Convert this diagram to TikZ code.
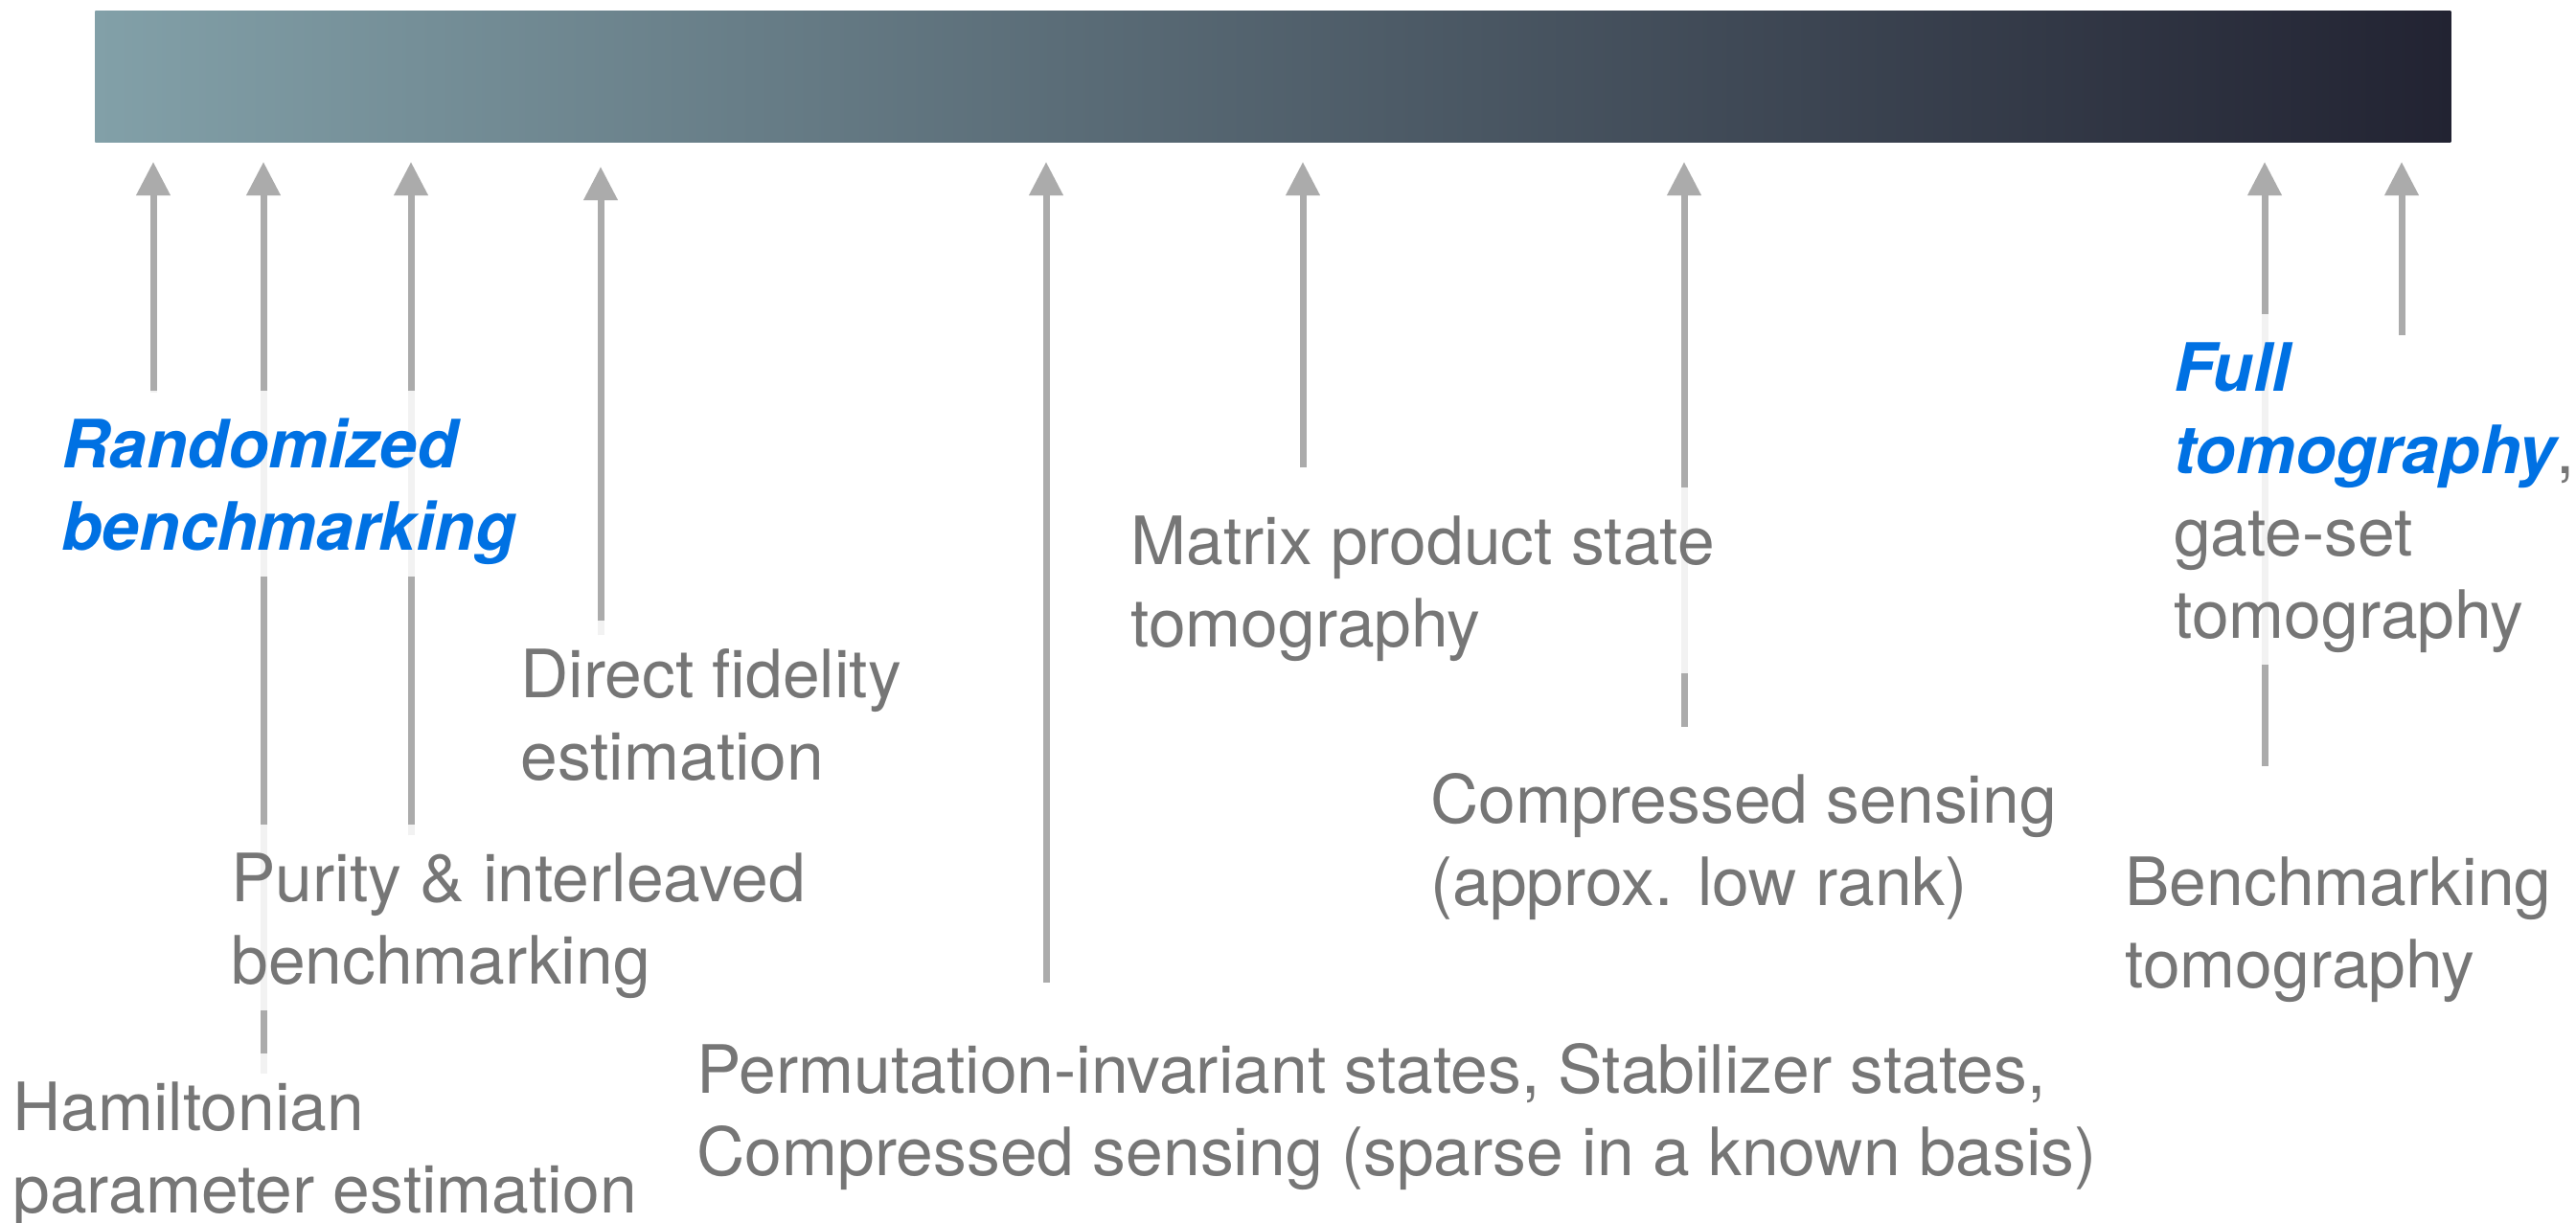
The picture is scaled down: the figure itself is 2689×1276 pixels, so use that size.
\documentclass[tikz,border=0pt]{standalone}
\usepackage{fontspec}
\setmainfont{TeX Gyre Heros}
\usetikzlibrary{arrows.meta}
\pgfdeclarelayer{background}
\pgfsetlayers{background,main}
\definecolor{barL}{RGB}{130,160,168}
\definecolor{barR}{RGB}{34,35,50}
\definecolor{txtgray}{RGB}{118,118,118}
\definecolor{arrgray}{RGB}{171,171,171}
\definecolor{hlblue}{RGB}{0,113,227}
\newcommand{\topst}{\rule{0pt}{40pt}}
\newcommand{\botst}{\rule[-14pt]{0pt}{14pt}}
\newcommand{\hlt}[1]{{\color{hlblue}\bfseries\itshape #1}}
\begin{document}
\begin{tikzpicture}[x=0.5pt,y=-0.5pt,
  lbl/.style={anchor=north west, align=left, inner xsep=0pt, inner ysep=0pt,
    fill=white, fill opacity=0.85, text opacity=1, text=txtgray,
    font=\fontsize{34.8pt}{43pt}\selectfont},
  arr/.style={draw=arrgray, line width=3.5pt, -{Triangle[length=17.5pt,width=17pt]}},
  barstyle/.style={anchor=north west, inner sep=0pt, minimum width=1229.5pt,
    minimum height=68.5pt, left color=barL, right color=barR, draw=none}]
\useasboundingbox (0,0) rectangle (2689,1276);

\node[barstyle] (bar) at (99,11) {};

% labels
\node[lbl] (rb)  at (64,408)   {\topst\hlt{Randomized}\\\hlt{benchmarking}\botst};
\node[lbl] (dfe) at (543,648)  {\topst Direct fidelity\\estimation\botst};
\node[lbl] (pur) at (241,861)  {\topst Purity \& interleaved\\benchmarking\botst};
\node[lbl] (ham) at (13,1100)  {\topst Hamiltonian\\parameter estimation\botst};
\node[lbl] (per) at (727,1061) {\topst Permutation-invariant states, Stabilizer states,\\Compressed sensing (sparse in a known basis)\botst};
\node[lbl] (mps) at (1180,509) {\topst Matrix product state\\tomography\botst};
\node[lbl] (cs)  at (1493,779) {\topst Compressed sensing\\(approx. low rank)\botst};
\node[lbl] (ft)  at (2269,328) {\topst\hlt{Full}\\\hlt{tomography},\\gate-set\\tomography\botst};
\node[lbl] (bt)  at (2218,865) {\topst Benchmarking\\tomography\botst};

% arrow ends
\coordinate (t1) at (160,410);  \coordinate (h1) at (160,169);
\coordinate (t2) at (275,1121); \coordinate (h2) at (275,169);
\coordinate (t3) at (429,872);  \coordinate (h3) at (429,169);
\coordinate (t4) at (627,663);  \coordinate (h4) at (627,174);
\coordinate (t5) at (1092,1026);\coordinate (h5) at (1092,169);
\coordinate (t6) at (1360,488); \coordinate (h6) at (1360,169);
\coordinate (t7) at (1758,759); \coordinate (h7) at (1758,169);
\coordinate (t8) at (2364,800); \coordinate (h8) at (2364,169);
\coordinate (t9) at (2507,350); \coordinate (h9) at (2507,169);

\begin{pgfonlayer}{background}
\foreach \i in {1,...,8} {\draw[arr] (t\i) -- (h\i);}
\end{pgfonlayer}
\draw[arr] (t9) -- (h9);
\end{tikzpicture}
\end{document}
